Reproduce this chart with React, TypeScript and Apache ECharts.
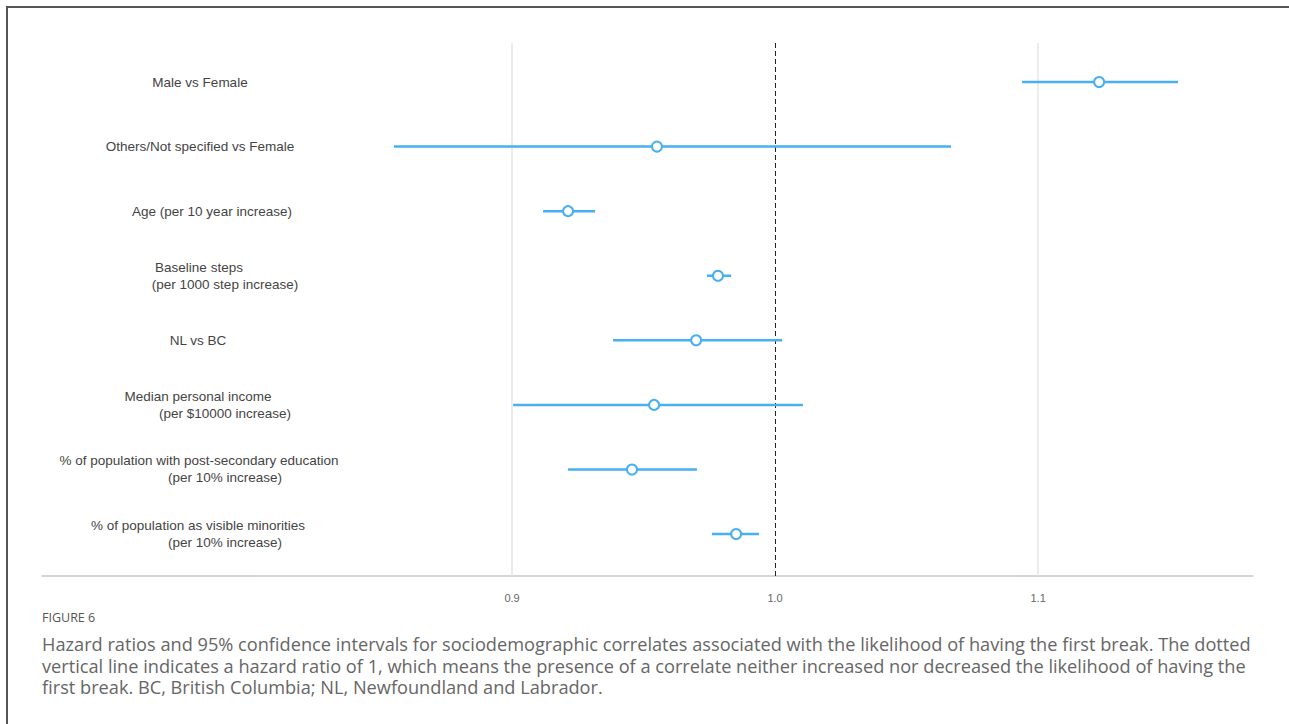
import React, { useEffect, useRef } from "react";
import * as echarts from "echarts";

const labelLine1 = [
  "Male vs Female",
  "Others/Not specified vs Female",
  "Age (per 10 year increase)",
  "Baseline steps",
  "NL vs BC",
  "Median personal income",
  "% of population with post-secondary education",
  "% of population as visible minorities",
];
const labelLine2 = [
  "",
  "",
  "",
  "(per 1000 step increase)",
  "",
  "(per $10000 increase)",
  "(per 10% increase)",
  "(per 10% increase)",
];
const hr = [1.1232, 0.9551, 0.9213, 0.9783, 0.970, 0.954, 0.9456, 0.9852];
const lower = [1.0939, 0.8551, 0.9118, 0.9741, 0.9384, 0.9004, 0.9213, 0.976];
const upper = [1.1532, 1.0669, 0.9316, 0.9833, 1.0027, 1.0106, 0.9703, 0.9939];
const tickValues = [0.9, 1.0, 1.1];

const captionTitle = "FIGURE 6";
const captionLines = [
  "Hazard ratios and 95% confidence intervals for sociodemographic correlates associated with the likelihood of having the first break. The dotted",
  "vertical line indicates a hazard ratio of 1, which means the presence of a correlate neither increased nor decreased the likelihood of having the",
  "first break. BC, British Columbia; NL, Newfoundland and Labrador.",
];

const BLUE = "#47aff2";

export default function App() {
  const ref = useRef<HTMLDivElement>(null);
  useEffect(() => {
    if (!ref.current) return;
    const chart = echarts.init(ref.current, null, { renderer: "svg" });
    const ciData = hr.map((v, i) => [lower[i], upper[i], i]);
    chart.setOption({
      animation: false,
      backgroundColor: "#fff",
      grid: { left: 42, right: 36, top: 43, bottom: 148 },
      xAxis: {
        type: "value",
        position: "bottom",
        min: 0.7213,
        max: 1.1817,
        axisLine: { show: true, onZero: false, lineStyle: { color: "#c8c8c8", width: 1.5 } },
        axisTick: { show: false },
        splitLine: { show: false },
        axisLabel: {
          customValues: tickValues,
          formatter: (v: number) => v.toFixed(1),
          color: "#666",
          fontSize: 11,
          fontFamily: "Liberation Sans, Arial, sans-serif",
          margin: 16,
        },
      },
      yAxis: {
        type: "value",
        inverse: true,
        min: -0.604,
        max: 7.65,
        show: false,
      },
      series: [
        {
          type: "custom",
          silent: true,
          data: ciData,
          renderItem: (params: any, api: any) => {
            const p1 = api.coord([api.value(0), api.value(2)]);
            const p2 = api.coord([api.value(1), api.value(2)]);
            return {
              type: "line",
              shape: { x1: p1[0], y1: p1[1], x2: p2[0], y2: p2[1] },
              style: { stroke: BLUE, lineWidth: 2.5 },
            };
          },
          z: 3,
        },
        {
          type: "scatter",
          silent: true,
          data: hr.map((v, i) => [v, i]),
          symbol: "circle",
          symbolSize: 10,
          itemStyle: { color: "#fff", borderColor: BLUE, borderWidth: 2, opacity: 1 },
          z: 4,
          markLine: {
            silent: true,
            symbol: "none",
            label: { show: false },
            data: [
              { xAxis: 0.9, lineStyle: { color: "#e6e6e6", width: 1.5, type: "solid" } },
              { xAxis: 1.1, lineStyle: { color: "#e6e6e6", width: 1.5, type: "solid" } },
              { xAxis: 1.0, lineStyle: { color: "#222", width: 1, type: [5, 3] } },
            ],
            z: 2,
          },
        },
      ],
    });

    const line1X = [200, 200, 212, 199, 198, 198, 199, 198];
    const line2X = 225;
    const labelFont = "13.5px 'Liberation Sans', Arial, sans-serif";
    const texts: any[] = [];
    labelLine1.forEach((t, i) => {
      const y = chart.convertToPixel({ yAxisIndex: 0 }, i) as number;
      const two = labelLine2[i] !== "";
      texts.push({
        type: "text",
        x: line1X[i],
        y: two ? y - 8.5 : y,
        style: {
          text: t,
          fill: "#444",
          font: labelFont,
          align: "center",
          verticalAlign: "middle",
        },
      });
      if (two) {
        texts.push({
          type: "text",
          x: line2X,
          y: y + 8.5,
          style: {
            text: labelLine2[i],
            fill: "#444",
            font: labelFont,
            align: "center",
            verticalAlign: "middle",
          },
        });
      }
    });
    texts.push({
      type: "text",
      x: 42,
      y: 617,
      style: {
        text: captionTitle,
        fill: "#555",
        font: "12.5px 'Open Sans', Lato, sans-serif",
        align: "left",
        verticalAlign: "middle",
      },
    });
    const capY = [644, 665.5, 687];
    captionLines.forEach((t, i) => {
      texts.push({
        type: "text",
        x: 42,
        y: capY[i],
        style: {
          text: t,
          fill: "#666",
          font: "18.2px 'Open Sans', Lato, sans-serif",
          align: "left",
          verticalAlign: "middle",
        },
      });
    });
    texts.push({
      type: "rect",
      shape: { x: 7, y: 7, width: 1400, height: 900 },
      style: { fill: "none", stroke: "#555", lineWidth: 2 },
      silent: true,
    });
    chart.setOption({ graphic: texts });
    return () => chart.dispose();
  }, []);
  return (
    <div
      ref={ref}
      style={{ position: "absolute", left: 0, top: 0, width: 1289, height: 724 }}
    />
  );
}
